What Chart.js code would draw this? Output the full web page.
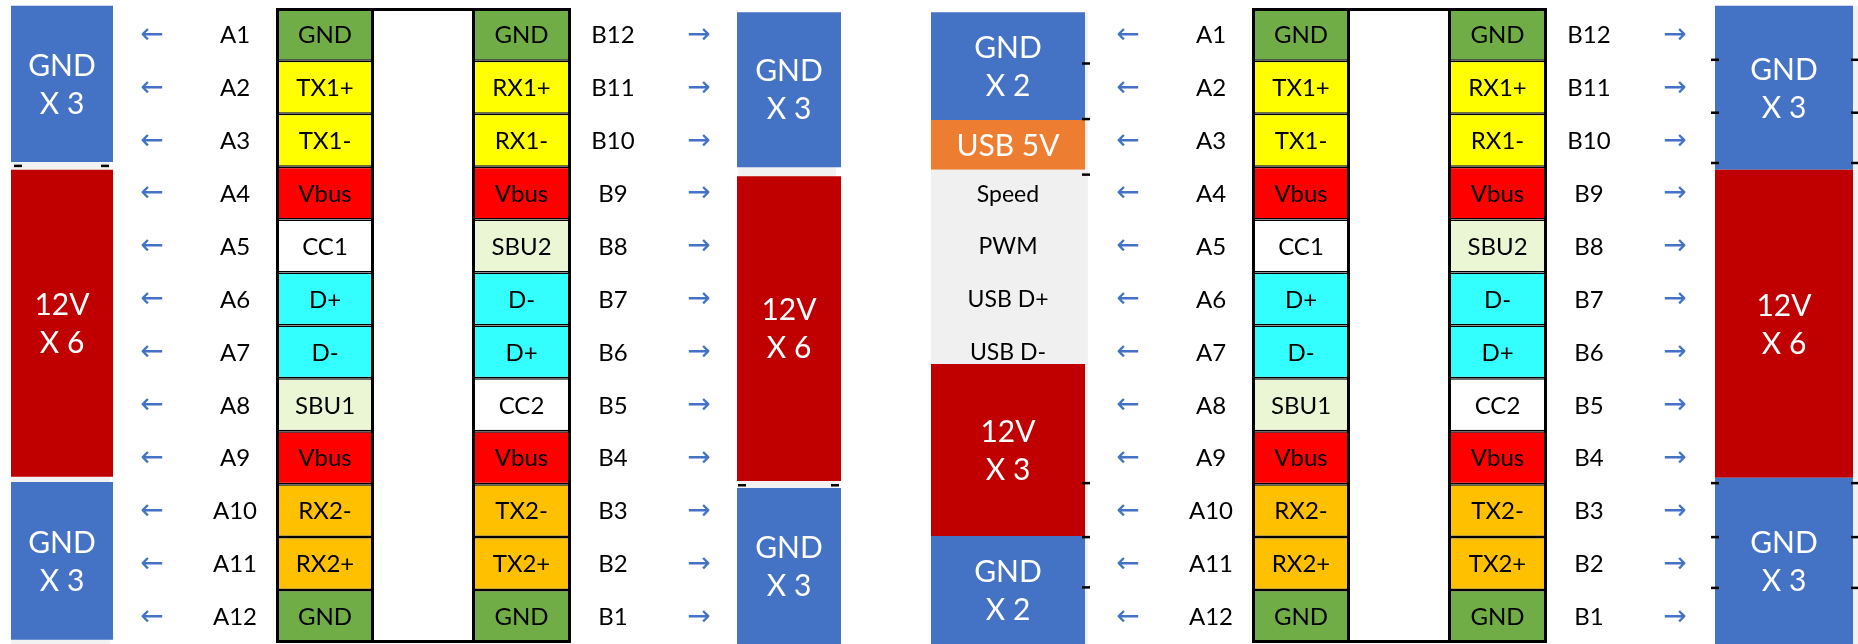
<!DOCTYPE html>
<html>
<head>
<meta charset="utf-8">
<title>USB-C pinout</title>
<script src="https://cdn.jsdelivr.net/npm/chart.js@4.4.1/dist/chart.umd.min.js"></script>
<style>
  html, body { margin: 0; padding: 0; background: #fff; }
  #wrap { width: 1858px; height: 644px; }
</style>
</head>
<body>
<div id="wrap"><canvas id="pinout" width="1858" height="644"></canvas></div>
<script>
// ---- data (rows run top to bottom, row 0 = A1 / B12) ----
const A_PINS = ['A1', 'A2', 'A3', 'A4', 'A5', 'A6', 'A7', 'A8', 'A9', 'A10', 'A11', 'A12'];
const B_PINS = ['B12', 'B11', 'B10', 'B9', 'B8', 'B7', 'B6', 'B5', 'B4', 'B3', 'B2', 'B1'];
const A_SIGNALS = ['GND', 'TX1+', 'TX1-', 'Vbus', 'CC1', 'D+', 'D-', 'SBU1', 'Vbus', 'RX2-', 'RX2+', 'GND'];
const B_SIGNALS = ['GND', 'RX1+', 'RX1-', 'Vbus', 'SBU2', 'D-', 'D+', 'CC2', 'Vbus', 'TX2-', 'TX2+', 'GND'];

// wire groups beside each connector: label and [top, bottom] in row units
const P1_LEFT_LABELS = ['GND\nX 3', '12V\nX 6', 'GND\nX 3'];
const P1_LEFT_SPANS = [[-0.04, 2.91], [3.06, 8.86], [8.96, 11.94]];
const P1_RIGHT_LABELS = ['GND\nX 3', '12V\nX 6', 'GND\nX 3'];
const P1_RIGHT_SPANS = [[0.08, 3.01], [3.18, 8.94], [9.07, 12.02]];
const P2_LEFT_LABELS = ['GND\nX 2', 'USB 5V', '', '12V\nX 3', 'GND\nX 2'];
const P2_LEFT_SPANS = [[0.08, 2.12], [2.12, 3.06], [3.06, 6.73], [6.73, 9.98], [9.98, 12.02]];
const P2_RIGHT_LABELS = ['GND\nX 3', '12V\nX 6', 'GND\nX 3'];
const P2_RIGHT_SPANS = [[-0.04, 3.06], [3.06, 8.88], [8.88, 12.02]];

// control signals listed inside the grey part of panel 2
const P2_SIGNAL_NAMES = ['Speed', 'PWM', 'USB D+', 'USB D-'];
const P2_SIGNAL_ROWS = [3, 4, 5, 6];

// little connector marks at the block edges (row positions)
const P1_LEFT_MARK_ROWS = [2.985];
const P1_RIGHT_MARK_ROWS = [9.02];
const P2_LEFT_MARK_ROWS = [1.05, 2.1, 3.15, 8.98, 10.0, 10.95];
const P2_RIGHT_MARK_ROWS = [0.98, 1.98, 2.93, 8.98, 10.0, 10.96];

// ---- layout (x positions are in page pixels) ----
const PANEL_SHIFT = 976;
const COLS = {
  arrowA: 152, labelA: 235,
  pinA: [325, 98], gap: [423, 98], pinB: [521.5, 99],
  labelB: 613, arrowB: 699
};
const BLOCK_COLS = {
  p1Left: { center: 62, width: 102, bg: [60.5, 99] },
  p1Right: { center: 789, width: 104, bg: [787, 98] },
  p2Left: { center: 1008, width: 154, bg: [1011.5, 153] },
  p2Right: { center: 1784, width: 138, bg: [1786.5, 143] }
};

const FONT = 'Lato, "Open Sans", "DejaVu Sans", sans-serif';
const BLUE = '#4472c4';

function signalColor(name) {
  if (name.startsWith('GND')) return '#70ad47';
  if (name.startsWith('TX1') || name.startsWith('RX1')) return '#ffff00';
  if (name.startsWith('TX2') || name.startsWith('RX2')) return '#ffc000';
  if (name.startsWith('Vbus')) return '#ff0000';
  if (name.startsWith('SBU')) return '#ebf6d5';
  if (name.startsWith('D')) return '#33ffff';
  return '#ffffff'; // CC
}

function blockColor(label) {
  if (label.startsWith('GND')) return BLUE;
  if (label.startsWith('12V')) return '#c00000';
  if (label.startsWith('USB')) return '#ed7d31';
  return '#f0f0f0';
}

function bars(center, width, spans, colors, extra) {
  return Object.assign({
    type: 'bar',
    data: spans.map(s => ({ x: center, y: s })),
    backgroundColor: colors,
    borderWidth: 0,
    borderSkipped: false,
    barThickness: width,
    grouped: false,
    inflateAmount: 0
  }, extra || {});
}

const datasets = [];
const texts = [];

function addBlocks(col, labels, spans) {
  const top = Math.min(...spans.map(s => s[0]));
  datasets.push(bars(col.bg[0], col.bg[1], [[top, 12.02]], ['#f2f2f2'], { order: 10 }));
  datasets.push(bars(col.center, col.width, spans, labels.map(blockColor), { order: 8 }));
  labels.forEach((lab, i) => {
    if (!lab) return;
    texts.push({ x: col.center, y: (spans[i][0] + spans[i][1]) / 2, text: lab,
      font: '30px ' + FONT, color: '#ffffff', lh: 38 });
  });
}

function addMarks(xs, rows) {
  const pts = [];
  xs.forEach(x => rows.forEach(r => pts.push({ x: x, y: r })));
  datasets.push({
    type: 'line', data: pts, showLine: false, order: 1, clip: false,
    pointStyle: 'line', pointRadius: 4, borderColor: '#000', pointBorderWidth: 2.5,
    pointBackgroundColor: '#000', pointHoverRadius: 0
  });
}

function addConnector(shift) {
  const rows = A_SIGNALS.map((s, i) => [i, i + 1]);
  // middle tongue between the two pin rows
  datasets.push(bars(COLS.gap[0] + shift, COLS.gap[1], [[0, 12]], ['#ffffff'],
    { borderColor: '#000', borderWidth: { top: 3, bottom: 3, left: 0, right: 0 }, order: 6 }));
  [[COLS.pinA, A_SIGNALS], [COLS.pinB, B_SIGNALS]].forEach(([c, sig]) => {
    datasets.push(bars(c[0] + shift, c[1], rows, sig.map(signalColor),
      { borderColor: '#000', borderWidth: 1.5, order: 4 }));
    datasets.push(bars(c[0] + shift, c[1], [[0, 12]], ['rgba(0,0,0,0)'],
      { borderColor: '#000', borderWidth: 3, order: 2 }));
    sig.forEach((s, i) => texts.push({ x: c[0] + shift, y: i + 0.5, text: s,
      font: '24px ' + FONT, color: '#000' }));
  });
  A_PINS.forEach((p, i) => {
    texts.push({ x: COLS.labelA + shift, y: i + 0.5, text: p, font: '24px ' + FONT, color: '#000' });
    texts.push({ x: COLS.arrowA + shift, y: i + 0.5, text: '\u2190', font: '28px "DejaVu Sans"', color: BLUE });
  });
  B_PINS.forEach((p, i) => {
    texts.push({ x: COLS.labelB + shift, y: i + 0.5, text: p, font: '24px ' + FONT, color: '#000' });
    texts.push({ x: COLS.arrowB + shift, y: i + 0.5, text: '\u2192', font: '28px "DejaVu Sans"', color: BLUE });
  });
}

addBlocks(BLOCK_COLS.p1Left, P1_LEFT_LABELS, P1_LEFT_SPANS);
addBlocks(BLOCK_COLS.p1Right, P1_RIGHT_LABELS, P1_RIGHT_SPANS);
addBlocks(BLOCK_COLS.p2Left, P2_LEFT_LABELS, P2_LEFT_SPANS);
addBlocks(BLOCK_COLS.p2Right, P2_RIGHT_LABELS, P2_RIGHT_SPANS);
addConnector(0);
addConnector(PANEL_SHIFT);

P2_SIGNAL_NAMES.forEach((name, i) => {
  texts.push({ x: BLOCK_COLS.p2Left.center, y: P2_SIGNAL_ROWS[i] + 0.5, text: name,
    font: '23px ' + FONT, color: '#000' });
});

addMarks([18, 105], P1_LEFT_MARK_ROWS);
addMarks([742, 835], P1_RIGHT_MARK_ROWS);
addMarks([1086], P2_LEFT_MARK_ROWS);
addMarks([1715, 1855], P2_RIGHT_MARK_ROWS);

// draws all labels through the chart scales
const textPlugin = {
  id: 'pinText',
  afterDatasetsDraw(chart) {
    const { ctx, scales } = chart;
    ctx.save();
    ctx.textAlign = 'center';
    ctx.textBaseline = 'middle';
    texts.forEach(t => {
      ctx.font = t.font;
      ctx.fillStyle = t.color;
      const px = scales.x.getPixelForValue(t.x);
      const py = scales.y.getPixelForValue(t.y);
      const lines = t.text.split('\n');
      lines.forEach((ln, i) => {
        ctx.fillText(ln, px, py + (i - (lines.length - 1) / 2) * (t.lh || 0) + 1);
      });
    });
    ctx.restore();
  }
};

new Chart(document.getElementById('pinout'), {
  type: 'bar',
  data: { datasets },
  options: {
    responsive: false,
    animation: false,
    devicePixelRatio: 1,
    layout: { padding: 0, autoPadding: false },
    events: [],
    scales: {
      x: { type: 'linear', display: false, offset: false, min: 0, max: 1858 },
      y: { type: 'linear', display: false, offset: false, min: -0.15, max: 12.02, reverse: true }
    },
    plugins: { legend: { display: false }, tooltip: { enabled: false } }
  },
  plugins: [textPlugin]
});
</script>
</body>
</html>
